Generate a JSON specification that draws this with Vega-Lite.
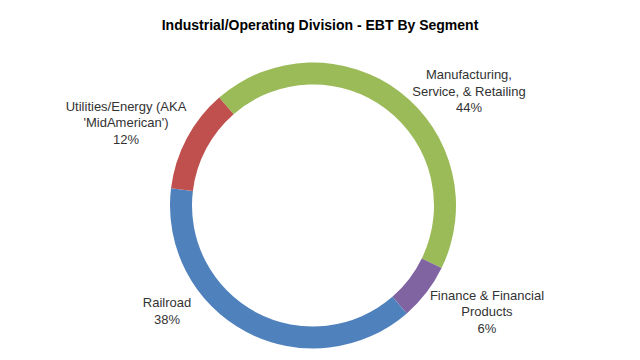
{
  "$schema": "https://vega.github.io/schema/vega-lite/v6.json",
  "width": 626,
  "height": 309,
  "autosize": "none",
  "padding": {"left": 0, "top": 51, "right": 14, "bottom": 0},
  "background": "white",
  "config": {"view": {"stroke": null}},
  "title": {
    "text": "Industrial/Operating Division - EBT By Segment",
    "font": "Liberation Sans",
    "fontSize": 14,
    "fontWeight": "bold",
    "color": "#000000",
    "anchor": "middle",
    "baseline": "alphabetic",
    "offset": -15,
    "dx": 7
  },
  "data": {
    "values": [
      {"segment": "Manufacturing, Service, & Retailing", "share": 43.6, "seq": 1, "label": "Manufacturing,\nService, & Retailing\n44%"},
      {"segment": "Finance & Financial Products", "share": 6.4, "seq": 2, "label": "Finance & Financial\nProducts\n6%"},
      {"segment": "Railroad", "share": 38.3, "seq": 3, "label": "Railroad\n38%"},
      {"segment": "Utilities/Energy (AKA 'MidAmerican')", "share": 11.7, "seq": 4, "label": "Utilities/Energy (AKA\n'MidAmerican')\n12%"}
    ]
  },
  "encoding": {
    "theta": {"field": "share", "type": "quantitative", "stack": true, "scale": {"range": [-0.7156, 5.5676]}},
    "order": {"field": "seq", "type": "ordinal"}
  },
  "layer": [
    {
      "mark": {"type": "arc", "outerRadius": 143, "innerRadius": 121},
      "encoding": {
        "color": {
          "field": "segment",
          "type": "nominal",
          "scale": {
            "domain": ["Manufacturing, Service, & Retailing", "Finance & Financial Products", "Railroad", "Utilities/Energy (AKA 'MidAmerican')"],
            "range": ["#9BBB59", "#8064A2", "#4F81BD", "#C0504D"]
          },
          "legend": null
        }
      }
    },
    {
      "mark": {"type": "text", "radius": 160, "dx": 58.6, "dy": -3.4, "font": "Liberation Sans", "fontSize": 13, "lineHeight": 16.5, "lineBreak": "\n", "color": "#333333", "align": "center", "baseline": "middle"},
      "encoding": {"text": {"condition": {"test": "datum.seq == 1", "field": "label"}, "value": ""}}
    },
    {
      "mark": {"type": "text", "radius": 160, "dx": 47, "dy": -7.1, "font": "Liberation Sans", "fontSize": 13, "lineHeight": 16.5, "lineBreak": "\n", "color": "#333333", "align": "center", "baseline": "middle"},
      "encoding": {"text": {"condition": {"test": "datum.seq == 2", "field": "label"}, "value": ""}}
    },
    {
      "mark": {"type": "text", "radius": 160, "dx": -71, "dy": -43.4, "font": "Liberation Sans", "fontSize": 13, "lineHeight": 16.5, "lineBreak": "\n", "color": "#333333", "align": "center", "baseline": "middle"},
      "encoding": {"text": {"condition": {"test": "datum.seq == 3", "field": "label"}, "value": ""}}
    },
    {
      "mark": {"type": "text", "radius": 160, "dx": -45.6, "dy": -23.8, "font": "Liberation Sans", "fontSize": 13, "lineHeight": 16.5, "lineBreak": "\n", "color": "#333333", "align": "center", "baseline": "middle"},
      "encoding": {"text": {"condition": {"test": "datum.seq == 4", "field": "label"}, "value": ""}}
    }
  ]
}
